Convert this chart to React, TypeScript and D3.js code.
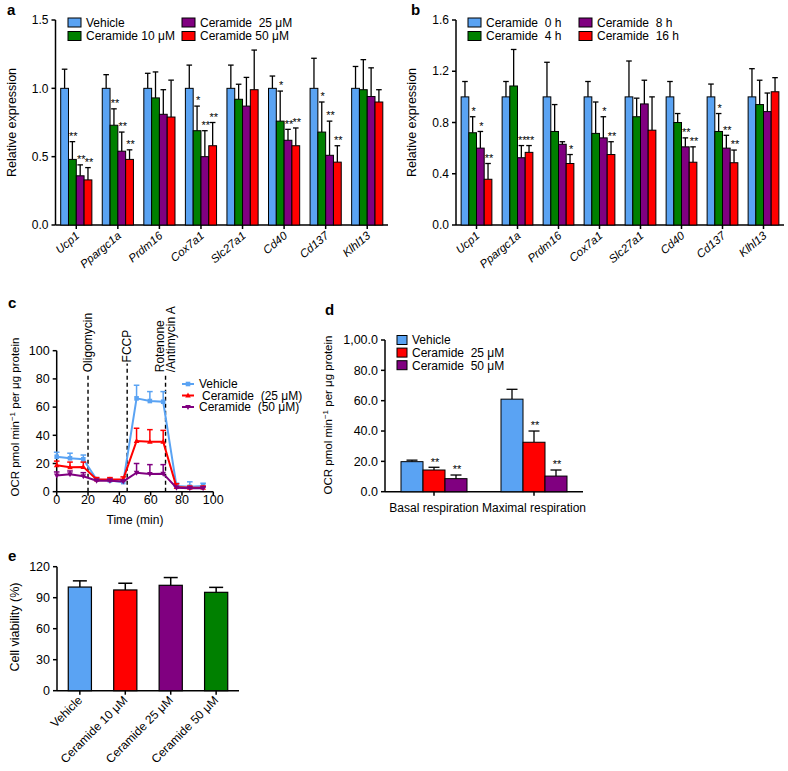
import React from 'react';
import * as d3 from 'd3';

const FONT = "'Liberation Sans', Arial, Helvetica, sans-serif";
const BLUE = '#5aa3f3';
const GREEN = '#008000';
const PURPLE = '#800080';
const RED = '#ff0000';

// ---------- Panel a ----------
const genes = ['Ucp1', 'Ppargc1a', 'Prdm16', 'Cox7a1', 'Slc27a1', 'Cd40', 'Cd137', 'Klhl13'];
const aNames = ['Vehicle', 'Ceramide 10 μM', 'Ceramide  25 μM', 'Ceramide 50 μM'];
const aVehicle = [1, 1, 1, 1, 1, 1, 1, 1];
const aVehicleErr = [1.14, 1.10, 1.11, 1.17, 1.17, 1.09, 1.22, 1.16];
const a10 = [0.48, 0.73, 0.93, 0.69, 0.92, 0.76, 0.68, 0.99];
const a10Err = [0.61, 0.85, 1.12, 0.87, 1.03, 0.98, 0.90, 1.21];
const a25 = [0.36, 0.54, 0.81, 0.50, 0.87, 0.62, 0.51, 0.94];
const a25Err = [0.44, 0.68, 0.99, 0.69, 1.08, 0.70, 0.76, 1.15];
const a50 = [0.33, 0.48, 0.79, 0.58, 0.99, 0.58, 0.46, 0.90];
const a50Err = [0.42, 0.55, 1.06, 0.75, 1.28, 0.71, 0.58, 0.99];
const aStars10 = ['**', '**', '', '*', '', '*', '*', ''];
const aStars25 = ['**', '**', '', '**', '', '**', '**', ''];
const aStars50 = ['**', '**', '', '**', '', '**', '**', ''];
const aTicks = [0, 0.5, 1.0, 1.5];

// ---------- Panel b ----------
const bNames = ['Ceramide  0 h', 'Ceramide  4 h', 'Ceramide  8 h', 'Ceramide  16 h'];
const b0 = [1, 1, 1, 1, 1, 1, 1, 1];
const b0Err = [1.12, 1.12, 1.27, 1.12, 1.28, 1.12, 1.10, 1.22];
const b4 = [0.72, 1.085, 0.73, 0.715, 0.845, 0.80, 0.73, 0.94];
const b4Err = [0.845, 1.37, 0.94, 0.96, 0.99, 0.87, 0.87, 1.13];
const b8 = [0.60, 0.525, 0.63, 0.68, 0.945, 0.61, 0.60, 0.885];
const b8Err = [0.73, 0.62, 0.65, 0.845, 1.13, 0.68, 0.70, 1.03];
const b16 = [0.357, 0.567, 0.48, 0.55, 0.74, 0.49, 0.486, 1.04];
const b16Err = [0.48, 0.62, 0.55, 0.65, 1.0, 0.61, 0.585, 1.15];
const bStars4 = ['*', '', '', '', '', '', '*', ''];
const bStars8 = ['*', '**', '', '*', '', '**', '**', ''];
const bStars16 = ['**', '**', '*', '**', '', '**', '**', ''];
const bTicks = [0, 0.4, 0.8, 1.2, 1.6];

// ---------- Panel c ----------
const cTime = [0, 8.5, 17, 25.5, 34, 42.5, 51, 59.5, 68, 76.5, 85, 93.5];
const cVehicle = [24.8, 23.7, 23.0, 8.7, 8.0, 6.8, 66.2, 64.3, 63.8, 4.0, 3.5, 4.0];
const cVehicleErr = [28.0, 27.3, 26.0, 10.0, 9.5, 8.5, 75.5, 71.0, 71.0, 6.0, 7.0, 6.0];
const c25 = [18.8, 17.4, 17.6, 8.7, 8.7, 8.9, 36.0, 35.5, 35.5, 3.3, 2.8, 2.8];
const c25Err = [21.7, 21.0, 21.0, 10.0, 10.0, 10.5, 45.0, 44.0, 43.5, 5.6, 4.0, 4.0];
const c50 = [11.5, 12.3, 11.0, 7.8, 7.8, 7.3, 13.5, 12.6, 12.8, 2.8, 2.4, 2.4];
const c50Err = [14.0, 14.7, 13.5, 8.8, 8.8, 8.3, 20.0, 19.2, 19.2, 3.8, 3.4, 3.4];
const cNames = ['Vehicle', 'Ceramide  (25 μM)', 'Ceramide  (50 μM)'];
const cTicks = [0, 20, 40, 60, 80, 100];
const cEvents = [
  { t: 20, lines: ['Oligomycin'], top: 84 },
  { t: 45, lines: ['FCCP'], top: 91 },
  { t: 69.5, lines: ['Rotenone', '/Antimycin A'], top: 84 },
];

// ---------- Panel d ----------
const dGroups = ['Basal respiration', 'Maximal respiration'];
const dNames = ['Vehicle', 'Ceramide  25 μM', 'Ceramide  50 μM'];
const dVehicle = [19.8, 61.0];
const dVehicleErr = [20.8, 67.5];
const d25 = [14.3, 32.6];
const d25Err = [16.1, 40.0];
const d50 = [8.6, 10.3];
const d50Err = [11.0, 14.3];
const dStars25 = ['**', '**'];
const dStars50 = ['**', '**'];
const dTicks = [0, 20, 40, 60, 80, 100];
const dTickLabels = ['0.0', '20.0', '40.0', '60.0', '80.0', '1,00.0'];

// ---------- Panel e ----------
const eCats = ['Vehicle', 'Ceramide 10 μM', 'Ceramide 25 μM', 'Ceramide 50 μM'];
const eValues = [100.3, 97.5, 102.0, 95.2];
const eErr = [106.3, 104.0, 109.5, 100.0];
const eTicks = [0, 30, 60, 90, 120];

type Series = { name: string; values: number[]; errs: number[]; stars?: string[]; color: string };

function YAxis({ x, y, ticks, labels, max, fontSize = 12 }: any) {
  return (
    <g>
      <line x1={x} x2={x} y1={y(max)} y2={y(0)} stroke="#000" strokeWidth={1.5} />
      {ticks.map((t: number, i: number) => (
        <g key={i}>
          <line x1={x - 4} x2={x} y1={y(t)} y2={y(t)} stroke="#000" strokeWidth={1.5} />
          <text x={x - 7} y={y(t)} dy="0.35em" textAnchor="end" fontSize={fontSize} fill="#000">
            {labels ? labels[i] : t}
          </text>
        </g>
      ))}
    </g>
  );
}

function Bars({ band, y, cats, series, capHalf, starOffset = 8, starSize = 11 }: any) {
  const inner = d3.scaleBand<number>().domain(series.map((_: any, i: number) => i)).range([0, band.bandwidth()]).padding(0);
  const y0 = y(0);
  return (
    <g>
      {cats.map((c: string, ci: number) => (
        <g key={c}>
          {series.map((s: Series, si: number) => {
            const bx = (band(c) as number) + (inner(si) as number);
            const bw = inner.bandwidth();
            const cx = bx + bw / 2;
            const top = y(s.values[ci]);
            const et = y(s.errs[ci]);
            const st = s.stars ? s.stars[ci] : '';
            return (
              <g key={si}>
                <line x1={cx} x2={cx} y1={top} y2={et} stroke="#000" strokeWidth={1.3} />
                <line x1={cx - capHalf} x2={cx + capHalf} y1={et} y2={et} stroke="#000" strokeWidth={1.3} />
                <rect x={bx} y={top} width={bw} height={y0 - top} fill={s.color} stroke="#000" strokeWidth={1} />
                {st ? (
                  <text x={cx + 1} y={et - starOffset + starSize * 0.57} textAnchor="middle" fontSize={starSize} fill="#000">
                    {st}
                  </text>
                ) : null}
              </g>
            );
          })}
        </g>
      ))}
    </g>
  );
}

function Legend({ items, x, y, dx, dy, sw, sh, fontSize = 12, cols }: any) {
  return (
    <g>
      {items.map((it: any, i: number) => {
        const col = Math.floor(i / cols);
        const row = i % cols;
        const lx = x + col * dx;
        const ly = y + row * dy;
        return (
          <g key={i}>
            <rect x={lx} y={ly - sh / 2} width={sw} height={sh} fill={it.color} stroke="#000" strokeWidth={1} />
            <text x={lx + sw + 5} y={ly} dy="0.36em" fontSize={fontSize} fill="#000" style={{ whiteSpace: 'pre' }}>
              {it.name}
            </text>
          </g>
        );
      })}
    </g>
  );
}

function GenePanel({ x0, x1, yTop, yBot, max, ticks, fmt, series, names, legendX, legendDX, letter, letterX }: any) {
  const y = d3.scaleLinear().domain([0, max]).range([yBot, yTop]);
  const band = d3.scaleBand<string>().domain(genes).range([x0, x1]).paddingInner(0.25).paddingOuter(0.125);
  return (
    <g>
      <text x={letterX} y={15} fontSize={15} fontWeight="bold">{letter}</text>
      <YAxis x={x0} y={y} ticks={ticks} labels={ticks.map(fmt)} max={max} fontSize={12} />
      <line x1={x0} x2={x1} y1={yBot} y2={yBot} stroke="#000" strokeWidth={1.5} />
      <Bars band={band} y={y} cats={genes} series={series} capHalf={2.8} />
      {genes.map((g) => {
        const cx = (band(g) as number) + band.bandwidth() / 2;
        return (
          <g key={g}>
            <line x1={cx} x2={cx} y1={yBot} y2={yBot + 4} stroke="#000" strokeWidth={1.5} />
            <text transform={`translate(${cx + 4},${yBot + 12}) rotate(-40)`} textAnchor="end" fontSize={11.5} fontStyle="italic">
              {g}
            </text>
          </g>
        );
      })}
      <text transform={`translate(${x0 - 40},${(yTop + yBot) / 2}) rotate(-90)`} textAnchor="middle" fontSize={12.5}>
        Relative expression
      </text>
      <Legend items={series.map((s: Series, i: number) => ({ name: names[i], color: s.color }))} x={legendX} y={22.5} dx={legendDX} dy={13.5} sw={13} sh={9} cols={2} fontSize={12} />
    </g>
  );
}

function PanelC() {
  const x = d3.scaleLinear().domain([0, 100]).range([56.7, 213.3]);
  const y = d3.scaleLinear().domain([0, 100]).range([491.7, 350.7]);
  const line = d3.line<number>().x((_, i) => x(cTime[i])).y((v) => y(v));
  const series = [
    { name: cNames[0], values: cVehicle, errs: cVehicleErr, color: BLUE, marker: 'square' },
    { name: cNames[1], values: c25, errs: c25Err, color: RED, marker: 'up' },
    { name: cNames[2], values: c50, errs: c50Err, color: PURPLE, marker: 'down' },
  ];
  const marker = (m: string, px: number, py: number, color: string) => {
    if (m === 'square') return <rect x={px - 2.3} y={py - 2.3} width={4.6} height={4.6} fill={color} />;
    if (m === 'up') return <path d={`M${px},${py - 3} L${px + 2.8},${py + 2} L${px - 2.8},${py + 2} Z`} fill={color} />;
    return <path d={`M${px},${py + 3} L${px + 2.8},${py - 2} L${px - 2.8},${py - 2} Z`} fill={color} />;
  };
  return (
    <g>
      <text x={8} y={308} fontSize={15} fontWeight="bold">c</text>
      <YAxis x={56.7} y={y} ticks={cTicks} max={100} fontSize={12.5} />
      <line x1={56.7} x2={213.3} y1={491.7} y2={491.7} stroke="#000" strokeWidth={1.5} />
      {cTicks.map((t) => (
        <g key={t}>
          <line x1={x(t)} x2={x(t)} y1={491.7} y2={495.7} stroke="#000" strokeWidth={1.5} />
          <text x={x(t)} y={504} textAnchor="middle" fontSize={12.5}>{t}</text>
        </g>
      ))}
      <text x={135} y={524} textAnchor="middle" fontSize={12}>Time (min)</text>
      <text transform={`translate(19,417) rotate(-90)`} textAnchor="middle" fontSize={11.5}>
        OCR pmol min<tspan dy={-4} fontSize={8}>−1</tspan><tspan dy={4}> per μg protein</tspan>
      </text>
      {cEvents.map((e, i) => (
        <g key={i}>
          <line x1={x(e.t)} x2={x(e.t)} y1={491.7} y2={y(e.top)} stroke="#000" strokeWidth={1.4} strokeDasharray="4,3" />
          {e.lines.map((l, li) => (
            <text key={li} transform={`translate(${x(e.t) + 4 - (e.lines.length - 1) * 6 + li * 11.5},${y(e.top) - 1}) rotate(-90)`} fontSize={12}>
              {l}
            </text>
          ))}
        </g>
      ))}
      {series.map((s, si) => (
        <g key={si}>
          <path d={line(s.values) as string} fill="none" stroke={s.color} strokeWidth={2} />
          {s.values.map((v, i) => {
            const px = x(cTime[i]);
            const et = y(s.errs[i]);
            return (
              <g key={i}>
                <line x1={px} x2={px} y1={y(v)} y2={et} stroke={s.color} strokeWidth={1.5} />
                <line x1={px - 2.8} x2={px + 2.8} y1={et} y2={et} stroke={s.color} strokeWidth={1.5} />
                {marker(s.marker, px, y(v), s.color)}
              </g>
            );
          })}
        </g>
      ))}
      {series.map((s, i) => {
        const ly = 384 + i * 11.5;
        return (
          <g key={i}>
            <line x1={182} x2={194} y1={ly} y2={ly} stroke={s.color} strokeWidth={2} />
            {marker(s.marker, 188, ly, s.color)}
            <text x={i === 1 ? 202 : 199} y={ly} dy="0.36em" fontSize={12} style={{ whiteSpace: 'pre' }}>{s.name}</text>
          </g>
        );
      })}
    </g>
  );
}

function PanelD() {
  const y = d3.scaleLinear().domain([0, 100]).range([491.7, 340]);
  const band = d3.scaleBand<string>().domain(dGroups).range([385, 583]).paddingInner(0.34).paddingOuter(0.16);
  const series: Series[] = [
    { name: dNames[0], values: dVehicle, errs: dVehicleErr, color: BLUE },
    { name: dNames[1], values: d25, errs: d25Err, stars: dStars25, color: RED },
    { name: dNames[2], values: d50, errs: d50Err, stars: dStars50, color: PURPLE },
  ];
  return (
    <g>
      <text x={325} y={315} fontSize={15} fontWeight="bold">d</text>
      <YAxis x={385} y={y} ticks={dTicks} labels={dTickLabels} max={100} fontSize={12.5} />
      <line x1={385} x2={583} y1={491.7} y2={491.7} stroke="#000" strokeWidth={1.5} />
      <Bars band={band} y={y} cats={dGroups} series={series} capHalf={5.5} starOffset={8} starSize={11} />
      {dGroups.map((g) => {
        const cx = (band(g) as number) + band.bandwidth() / 2;
        return (
          <g key={g}>
            <line x1={cx} x2={cx} y1={491.7} y2={495.7} stroke="#000" strokeWidth={1.5} />
            <text x={cx} y={512} textAnchor="middle" fontSize={12}>{g}</text>
          </g>
        );
      })}
      <text transform={`translate(332,415) rotate(-90)`} textAnchor="middle" fontSize={11.5}>
        OCR pmol min<tspan dy={-4} fontSize={8}>−1</tspan><tspan dy={4}> per μg protein</tspan>
      </text>
      <Legend items={series.map((s) => ({ name: s.name, color: s.color }))} x={397} y={340} dx={0} dy={12.6} sw={10} sh={9} cols={3} fontSize={12} />
    </g>
  );
}

function PanelE() {
  const y = d3.scaleLinear().domain([0, 120]).range([690.7, 566.7]);
  const band = d3.scaleBand<string>().domain(eCats).range([57, 239]).paddingInner(0.49).paddingOuter(0.248);
  const colors = [BLUE, RED, PURPLE, GREEN];
  return (
    <g>
      <text x={8} y={561} fontSize={15} fontWeight="bold">e</text>
      <YAxis x={57} y={y} ticks={eTicks} max={120} fontSize={12.5} />
      <line x1={57} x2={239} y1={690.7} y2={690.7} stroke="#000" strokeWidth={1.5} />
      {eCats.map((c, i) => {
        const bx = band(c) as number;
        const bw = band.bandwidth();
        const cx = bx + bw / 2;
        const top = y(eValues[i]);
        const et = y(eErr[i]);
        return (
          <g key={c}>
            <line x1={cx} x2={cx} y1={top} y2={et} stroke="#000" strokeWidth={1.5} />
            <line x1={cx - 7} x2={cx + 7} y1={et} y2={et} stroke="#000" strokeWidth={1.5} />
            <rect x={bx} y={top} width={bw} height={690.7 - top} fill={colors[i]} stroke="#000" strokeWidth={1.2} />
            <line x1={cx} x2={cx} y1={690.7} y2={694.7} stroke="#000" strokeWidth={1.5} />
            <text transform={`translate(${cx + 3},${701}) rotate(-45)`} textAnchor="end" fontSize={12}>{c}</text>
          </g>
        );
      })}
      <text transform={`translate(19,627) rotate(-90)`} textAnchor="middle" fontSize={12.5}>Cell viability (%)</text>
    </g>
  );
}

export default function App() {
  const aSeries: Series[] = [
    { name: aNames[0], values: aVehicle, errs: aVehicleErr, color: BLUE },
    { name: aNames[1], values: a10, errs: a10Err, stars: aStars10, color: GREEN },
    { name: aNames[2], values: a25, errs: a25Err, stars: aStars25, color: PURPLE },
    { name: aNames[3], values: a50, errs: a50Err, stars: aStars50, color: RED },
  ];
  const bSeries: Series[] = [
    { name: bNames[0], values: b0, errs: b0Err, color: BLUE },
    { name: bNames[1], values: b4, errs: b4Err, stars: bStars4, color: GREEN },
    { name: bNames[2], values: b8, errs: b8Err, stars: bStars8, color: PURPLE },
    { name: bNames[3], values: b16, errs: b16Err, stars: bStars16, color: RED },
  ];
  return (
    <svg width={788} height={771} style={{ position: 'absolute', left: 0, top: 0, background: '#fff' }} fontFamily={FONT} fill="#000">
      <rect width={788} height={771} fill="#fff" />
      <GenePanel x0={55.5} x1={388} yTop={20} yBot={225} max={1.5} ticks={aTicks} fmt={(t: number) => t.toFixed(1)}
        series={aSeries} names={aNames} legendX={68} legendDX={114} letter="a" letterX={7} />
      <GenePanel x0={456} x1={784} yTop={20} yBot={225} max={1.6} ticks={bTicks} fmt={(t: number) => t.toFixed(1)}
        series={bSeries} names={bNames} legendX={468} legendDX={111} letter="b" letterX={411} />
      <PanelC />
      <PanelD />
      <PanelE />
    </svg>
  );
}
